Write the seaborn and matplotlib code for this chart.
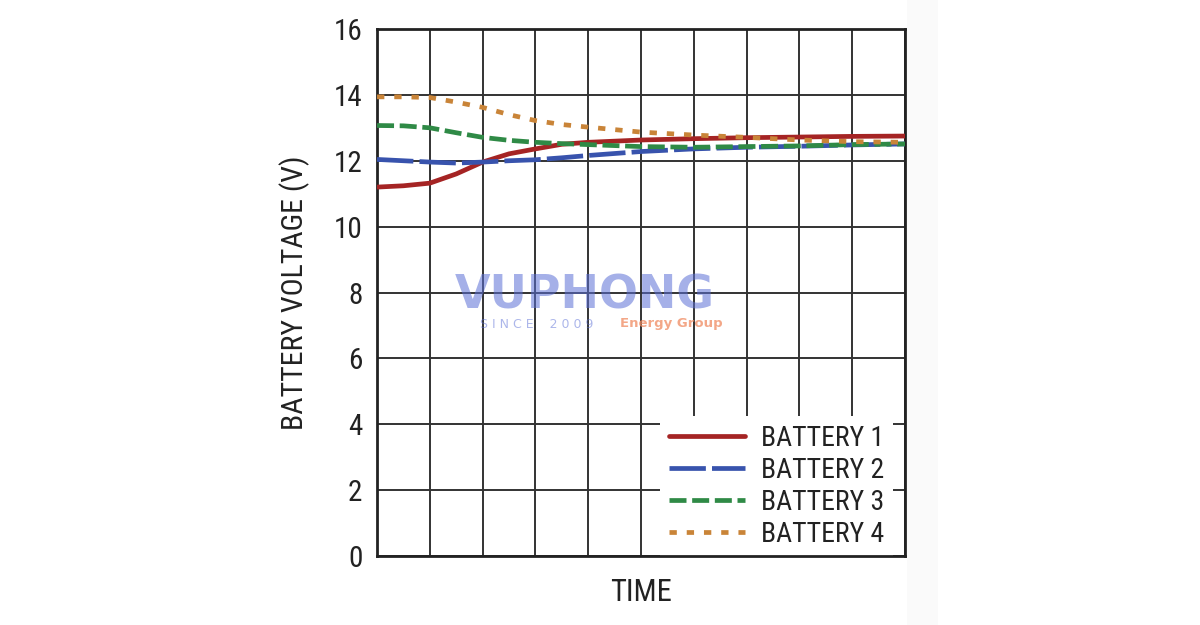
import numpy as np
import pandas as pd
import matplotlib
matplotlib.use("Agg")
import matplotlib.pyplot as plt
import seaborn as sns

# ---- data ----
time = [0, 0.5, 1, 1.5, 2, 2.5, 3, 3.5, 4, 5, 6, 7, 8, 9, 10]
battery1 = [11.20, 11.24, 11.32, 11.60, 11.96, 12.21, 12.36, 12.50, 12.56, 12.63, 12.67, 12.70, 12.72, 12.74, 12.75]
battery2 = [12.04, 12.00, 11.96, 11.93, 11.96, 12.00, 12.03, 12.09, 12.16, 12.28, 12.36, 12.41, 12.44, 12.48, 12.51]
battery3 = [13.07, 13.06, 13.00, 12.85, 12.71, 12.62, 12.56, 12.52, 12.49, 12.43, 12.41, 12.43, 12.45, 12.49, 12.51]
battery4 = [13.94, 13.94, 13.92, 13.78, 13.62, 13.40, 13.22, 13.10, 13.02, 12.87, 12.78, 12.71, 12.63, 12.58, 12.56]
series_names = ["BATTERY 1", "BATTERY 2", "BATTERY 3", "BATTERY 4"]
y_ticks = [0, 2, 4, 6, 8, 10, 12, 14, 16]

colors = {"BATTERY 1": "#a52424", "BATTERY 2": "#3853ad", "BATTERY 3": "#2f8a46", "BATTERY 4": "#c98438"}
dashes = {"BATTERY 1": "", "BATTERY 2": (7.7, 1.3), "BATTERY 3": (3.6, 1.2), "BATTERY 4": (1.55, 2.1)}

df = pd.concat([
    pd.DataFrame({"time": time, "voltage": v, "series": n})
    for n, v in zip(series_names, [battery1, battery2, battery3, battery4])
], ignore_index=True)

sns.set_theme(style="white")
plt.rcParams["font.family"] = ["Roboto Condensed", "Roboto", "DejaVu Sans"]

fig = plt.figure(figsize=(12, 6.25), dpi=100)
fig.patch.set_facecolor("white")
# very subtle grey band at the right of the picture
fig.patches.append(plt.Rectangle((0.756, 0), 0.026, 1, transform=fig.transFigure,
                                 facecolor="#fafafa", edgecolor="none", zorder=0))
ax = fig.add_axes([0.3142, 0.1104, 0.44, 0.8432])

sns.lineplot(data=df, x="time", y="voltage", hue="series", style="series",
             palette=colors, dashes=dashes, hue_order=series_names,
             style_order=series_names, linewidth=3.4, ax=ax, zorder=3)

ax.set_xlim(0, 10)
ax.set_ylim(0, 16)
ax.set_xticks(np.arange(0, 11, 1))
ax.set_yticks(y_ticks)
ax.set_xticklabels([])
ax.set_yticklabels([str(t) for t in y_ticks], fontsize=21, color="#222222")
ax.tick_params(axis="both", length=0, pad=10.5)
ax.grid(True, color="#333333", linewidth=1.4)
ax.set_axisbelow(True)
for s in ax.spines.values():
    s.set_color("#222222")
    s.set_linewidth(2)
    s.set_visible(True)

ax.set_xlabel("TIME", fontsize=22, color="#222222", labelpad=5)
ax.set_ylabel("BATTERY VOLTAGE (V)", fontsize=21.5, color="#222222", labelpad=17)

leg = ax.legend(loc="lower right", bbox_to_anchor=(0.978, -0.001), borderaxespad=0,
                fontsize=20, frameon=True, facecolor="white", edgecolor="none",
                framealpha=1, handlelength=2.75, handletextpad=0.58, labelspacing=0.18,
                borderpad=0.32, fancybox=False)
for t in leg.get_texts():
    t.set_color("#222222")
leg.set_zorder(2.4)  # above grid, below spines

# watermark
ax.text(0.148, 0.493, "VUPHONG", transform=ax.transAxes, fontsize=33, fontweight="bold",
        color="#5b6fd6", alpha=0.55, ha="left", va="center", family="DejaVu Sans", zorder=6)
ax.text(0.195, 0.439, "S I N C E    2 0 0 9", transform=ax.transAxes, fontsize=9,
        color="#5b6fd6", alpha=0.5, ha="left", va="center", family="DejaVu Sans", zorder=6)
ax.text(0.46, 0.441, "Energy Group", transform=ax.transAxes, fontsize=9.5, fontweight="bold",
        color="#f08a60", alpha=0.75, ha="left", va="center", family="DejaVu Sans", zorder=6)

fig.savefig("out.png", dpi=100, facecolor="white")
